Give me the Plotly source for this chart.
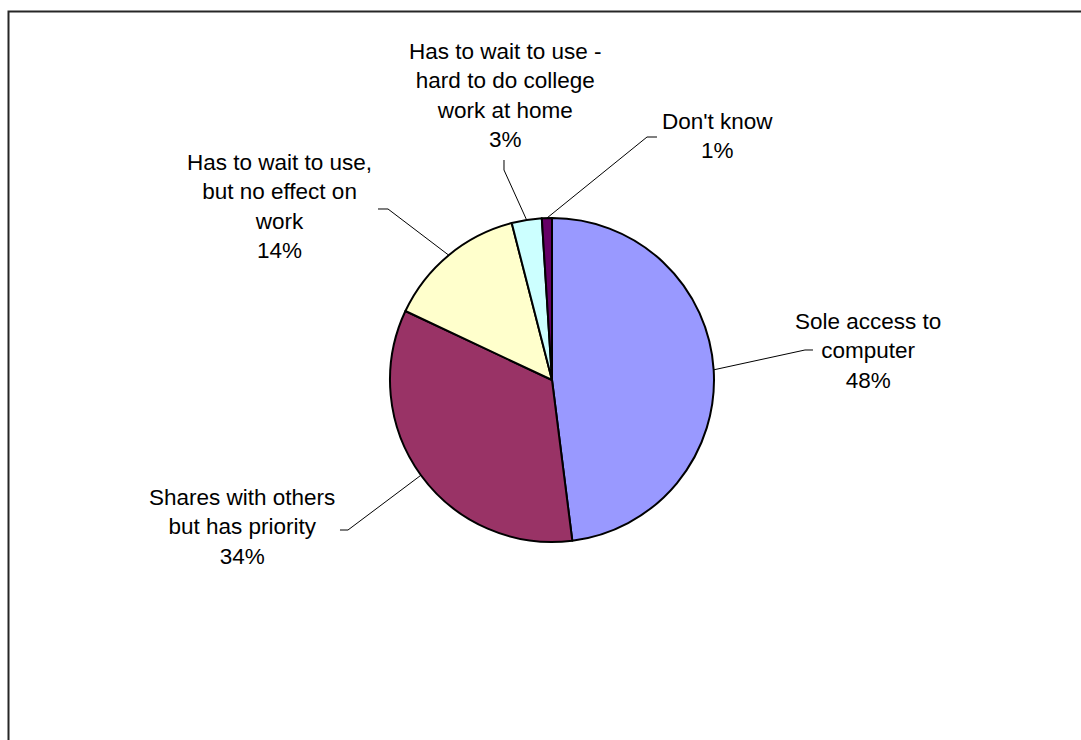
import math
import plotly.graph_objects as go

# Survey responses: access to a home computer
categories = [
    "Sole access to<br>computer",
    "Shares with others<br>but has priority",
    "Has to wait to use,<br>but no effect on<br>work",
    "Has to wait to use -<br>hard to do college<br>work at home",
    "Don't know",
]
percentages = [48, 34, 14, 3, 1]
slice_colors = ["#9999FF", "#993366", "#FFFFCC", "#CCFFFF", "#660066"]

W, H = 1081, 740
CX, CY, R = 552, 380, 162  # pie centre and radius in pixels

# label block centres and leader-line elbows (pixels)
label_pos = [(868, 351), (242, 527), (279, 207), (505, 95), (717, 136)]
elbows = [
    [(813, 350), (805, 350)],
    [(340, 530), (348, 530)],
    [(378, 209), (388, 209)],
    [(504, 160), (504, 170)],
    [(657, 137), (647, 137)],
]


def px(x):
    return x / W


def py(y):
    return 1 - y / H


fig = go.Figure(
    go.Pie(
        labels=[c.replace("<br>", " ") for c in categories],
        values=percentages,
        sort=False,
        direction="clockwise",
        rotation=0,
        textinfo="none",
        marker=dict(colors=slice_colors, line=dict(color="black", width=2)),
        domain=dict(x=[px(CX - R), px(CX + R)], y=[py(CY + R), py(CY - R)]),
        showlegend=False,
        hoverinfo="label+percent",
    )
)

shapes = []
annotations = []
total = sum(percentages)
cum = 0
for cat, val, (lx, ly), elb in zip(categories, percentages, label_pos, elbows):
    mid = (cum + val / 2) / total * 2 * math.pi
    cum += val
    ex = CX + R * math.sin(mid)
    ey = CY - R * math.cos(mid)
    pts = elb + [(ex, ey)]
    path = "M " + " L ".join(f"{px(x):.5f},{py(y):.5f}" for x, y in pts)
    shapes.append(dict(type="path", xref="paper", yref="paper", path=path,
                       line=dict(color="black", width=1)))
    annotations.append(dict(
        text=f"{cat}<br>{val}%", x=px(lx), y=py(ly), xref="paper", yref="paper",
        xanchor="center", yanchor="middle", showarrow=False, align="center",
        font=dict(family="Liberation Sans, Arial, sans-serif", size=22.5, color="black"),
    ))

# chart frame (extends past the right and bottom edges)
shapes.append(dict(type="rect", xref="paper", yref="paper",
                   x0=px(8.5), x1=1.05, y0=-0.05, y1=py(11.5),
                   line=dict(color="#262626", width=2), fillcolor="rgba(0,0,0,0)"))

fig.update_layout(
    width=W, height=H,
    margin=dict(l=0, r=0, t=0, b=0),
    paper_bgcolor="white", plot_bgcolor="white",
    shapes=shapes, annotations=annotations,
)

fig.write_html("out.html")
